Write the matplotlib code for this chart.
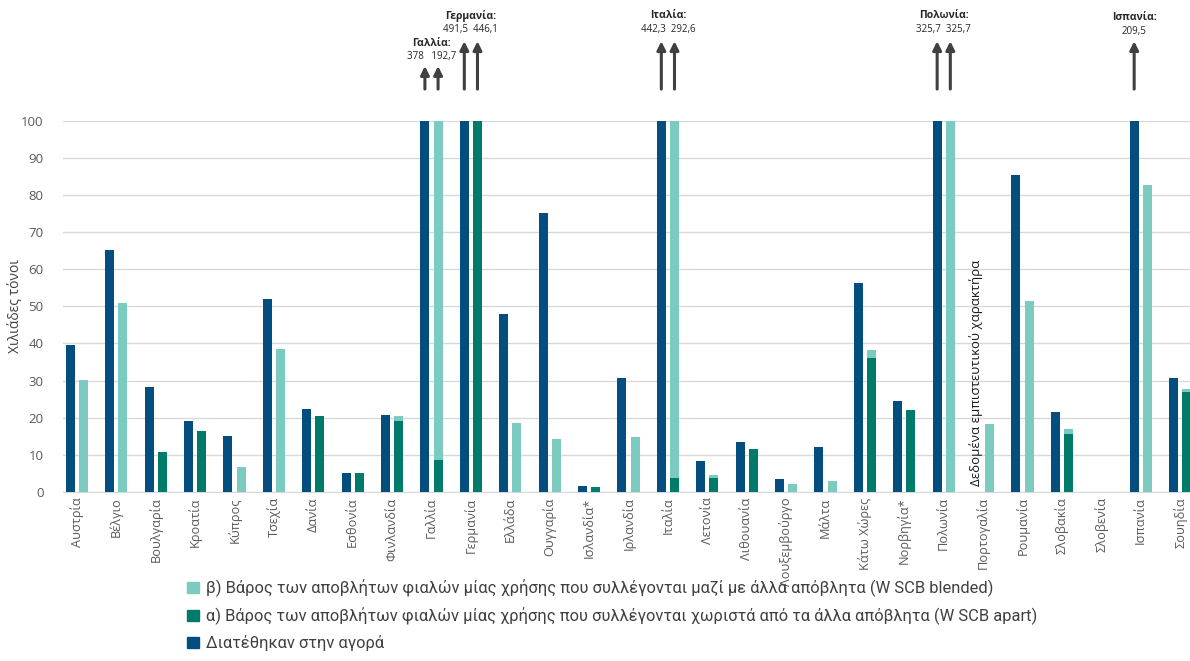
import matplotlib
matplotlib.use("Agg")
import matplotlib.pyplot as plt
import numpy as np
from matplotlib.patches import Patch

countries = ["Αυστρία", "Βέλγιο", "Βουλγαρία", "Κροατία", "Κύπρος", "Τσεχία", "Δανία",
             "Εσθονία", "Φινλανδία", "Γαλλία", "Γερμανία", "Ελλάδα", "Ουγγαρία", "Ισλανδία*",
             "Ιρλανδία", "Ιταλία", "Λετονία", "Λιθουανία", "Λουξεμβούργο", "Μάλτα",
             "Κάτω Χώρες", "Νορβηγία*", "Πολωνία", "Πορτογαλία", "Ρουμανία", "Σλοβακία",
             "Σλοβενία", "Ισπανία", "Σουηδία"]

market = [39.7, 65.2, 28.3, 19.0, 15.0, 52.0, 22.2, 5.1, 20.7, 378.0, 491.5, 48.0, 75.3, 1.6,
          30.6, 442.3, 8.3, 13.3, 3.5, 12.1, 56.4, 24.6, 325.7, 0.0, 85.4, 21.6, 0.0, 209.5, 30.6]
apart = [0.0, 0.0, 10.8, 16.5, 0.0, 0.0, 20.5, 5.1, 19.0, 8.6, 446.1, 0.0, 0.0, 1.3,
         0.0, 3.7, 3.6, 11.6, 0.0, 0.0, 36.0, 22.1, 0.0, 0.0, 0.0, 15.5, 0.0, 0.0, 26.8]
blended = [30.2, 51.0, 0.0, 0.0, 6.8, 38.5, 0.0, 0.0, 1.4, 184.1, 0.0, 18.5, 14.3, 0.0,
           14.9, 288.9, 1.0, 0.0, 2.1, 3.0, 2.3, 0.0, 325.7, 18.4, 51.4, 1.4, 0.0, 82.8, 0.8]

# clipped bars annotations: (country, title, value text, bars with arrows, arrow top, title y, value y)
overflow = [("Γαλλία", "Γαλλία:", "378   192,7", (0, 1), 114.8, 121.0, 117.4),
            ("Γερμανία", "Γερμανία:", "491,5  446,1", (0, 1), 121.5, 128.4, 124.6),
            ("Ιταλία", "Ιταλία:", "442,3  292,6", (0, 1), 121.5, 128.4, 124.6),
            ("Πολωνία", "Πολωνία:", "325,7  325,7", (0, 1), 121.5, 128.4, 124.6),
            ("Ισπανία", "Ισπανία:", "209,5", (0,), 121.5, 128.0, 124.2)]

legend_labels = ["β) Βάρος των αποβλήτων φιαλών μίας χρήσης που συλλέγονται μαζί με άλλα απόβλητα (W SCB blended)",
                 "α) Βάρος των αποβλήτων φιαλών μίας χρήσης που συλλέγονται χωριστά από τα άλλα απόβλητα (W SCB apart)",
                 "Διατέθηκαν στην αγορά"]

c_market = "#034e7f"
c_apart = "#007a6a"
c_blend = "#7ccbc0"

plt.rcParams["font.family"] = ["Open Sans", "DejaVu Sans"]

fig = plt.figure(figsize=(11.9, 6.61), dpi=100)
ax = fig.add_axes([0.053, 0.256, 0.947, 0.561])

x = np.arange(len(countries))
w = 0.23
off = 0.167
ymax = 100
mk = np.minimum(market, ymax)
ap = np.minimum(apart, ymax)
bl = np.minimum(np.array(apart) + np.array(blended), ymax) - ap

ax.bar(x - off, mk, width=w, color=c_market, zorder=3)
ax.bar(x + off, ap, width=w, color=c_apart, zorder=3)
ax.bar(x + off, bl, bottom=ap, width=w, color=c_blend, zorder=3)

ax.set_ylim(0, 100)
ax.set_xlim(-0.35, len(countries) - 0.75)
ax.set_yticks(np.arange(0, 101, 10))
ax.yaxis.grid(True, color="#d9d9d9", linewidth=1, zorder=0)
ax.set_axisbelow(True)
for s in ["top", "right", "left"]:
    ax.spines[s].set_visible(False)
ax.spines["bottom"].set_color("#d9d9d9")
ax.tick_params(axis="both", length=0, colors="#595959", labelsize=9.5)
ax.tick_params(axis="x", labelsize=9.2, pad=4)
ax.tick_params(axis="y", pad=14)
ax.set_xticks(x)
ax.set_xticklabels(countries, rotation=90)
ax.set_ylabel("Χιλιάδες τόνοι", fontsize=10, color="#404040")
ax.yaxis.set_label_coords(-0.036, 0.5)

for name, title, vals, bars, top, ty, vy in overflow:
    i = countries.index(name)
    for b in bars:
        bx = i - off if b == 0 else i + off
        ax.annotate("", xy=(bx, top), xytext=(bx, 108.6), xycoords="data",
                    arrowprops=dict(arrowstyle="-|>,head_width=0.25,head_length=0.5",
                                    color="#404040", lw=2.2, shrinkA=0, shrinkB=0),
                    annotation_clip=False)
    cx = i if len(bars) == 2 else i - off
    ax.text(cx, ty, title, ha="center", va="center", fontsize=7.5, fontweight="bold",
            color="#262626", clip_on=False)
    ax.text(cx, vy, vals, ha="center", va="center", fontsize=7, color="#262626", clip_on=False)

pi = countries.index("Πορτογαλία")
ax.text(pi - off, 1.5, "Δεδομένα εμπιστευτικού χαρακτήρα", rotation=90, ha="center", va="bottom",
        fontsize=9.5, color="#1a1a1a", zorder=5)

handles = [Patch(color=c_blend), Patch(color=c_apart), Patch(color=c_market)]
fig.legend(handles, legend_labels, loc="lower left", bbox_to_anchor=(0.145, -0.008),
           frameon=False, prop={"family": "Roboto", "size": 11.9}, handlelength=0.7,
           handleheight=0.7, handletextpad=0.4, labelspacing=0.62, labelcolor="#404040")

fig.savefig("out.png", dpi=100)
